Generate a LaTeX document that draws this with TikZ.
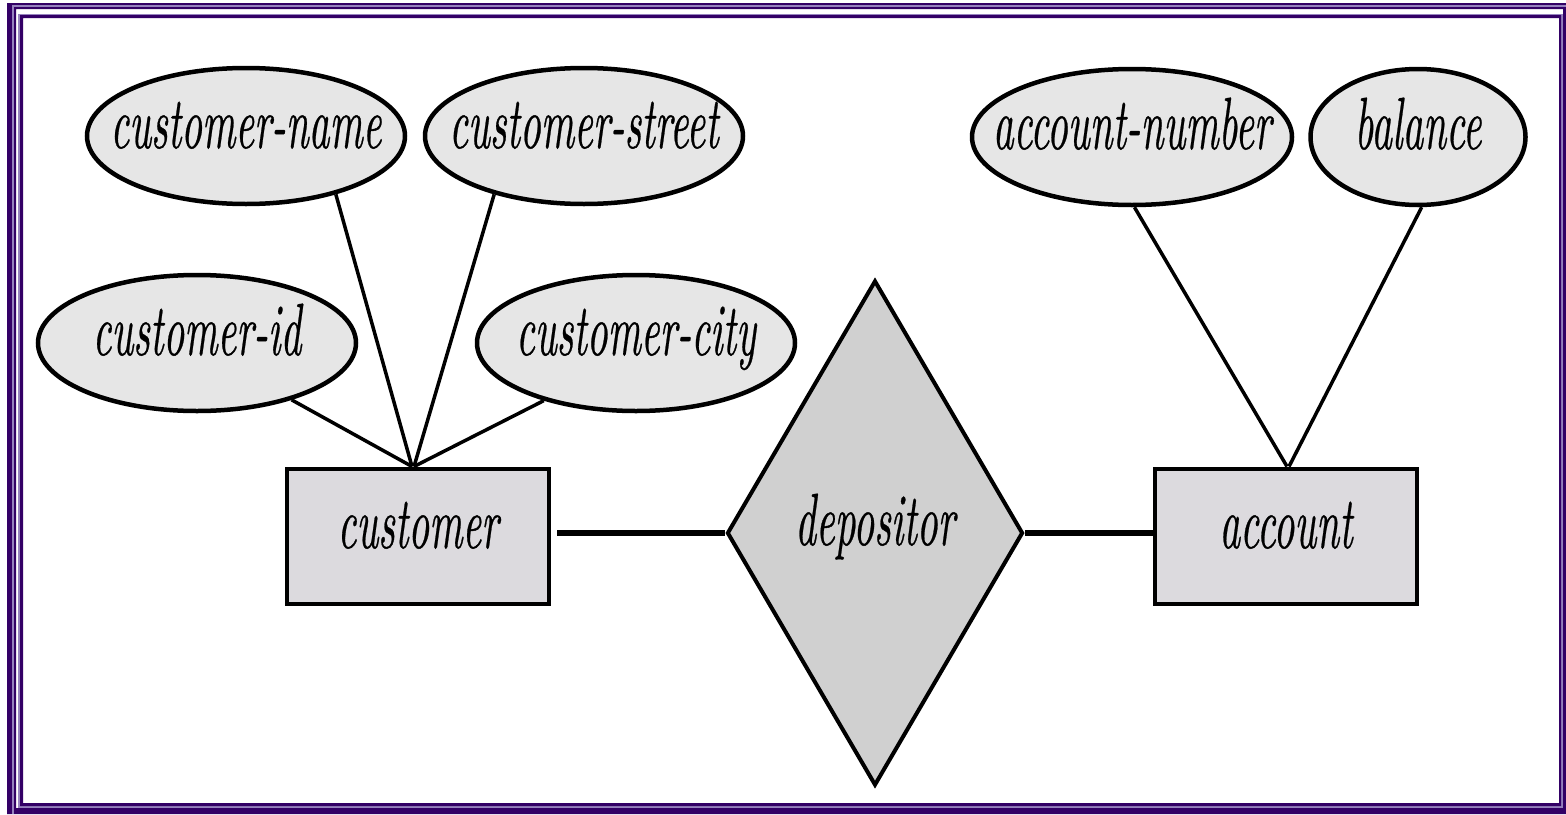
\documentclass[tikz,border=0pt]{standalone}
\usepackage{graphicx}
\usepackage{fontspec}
\newfontfamily\lblfont{lmroman10-italic.otf}[FakeBold=0.6]
\usetikzlibrary{shapes.geometric}
\definecolor{dp}{RGB}{51,0,102}
\definecolor{lav}{RGB}{150,130,190}
\definecolor{ellfill}{RGB}{230,230,230}
\definecolor{entfill}{RGB}{220,218,222}
\definecolor{relfill}{RGB}{208,208,208}
\newcommand{\lbl}[1]{\raisebox{-12pt}[0pt][0pt]{\makebox[0pt][c]{\scalebox{0.55}[1]{\fontsize{74}{90}\lblfont #1}}}}
\begin{document}
\begin{tikzpicture}[x=1pt,y=-1pt,
  attr/.style={ellipse, draw, line width=4.5pt, fill=ellfill, inner sep=0pt, minimum width=318pt, minimum height=136pt},
  ent/.style={rectangle, draw, line width=4pt, fill=entfill, inner sep=0pt, minimum width=262pt, minimum height=135pt},
  rel/.style={diamond, draw, line width=4pt, fill=relfill, inner sep=0pt, minimum width=296pt, minimum height=505pt},
  link/.style={line width=3.5pt},
  hlink/.style={line width=5.5pt}]
\useasboundingbox (0,0) rectangle (1566,814);
\fill[white] (0,0) rectangle (1566,814);
% frame
\fill[dp, even odd rule] (7,3) rectangle (1566,814) (16,9) rectangle (1563,808);
\draw[lav, line width=1.5pt] (13,814) -- (13,5.8) -- (1566,5.8);
\draw[lav, line width=1.5pt] (19,14.5) rectangle (1562,807);
\fill[dp, even odd rule] (20,15) rectangle (1561,806) (23,18) rectangle (1559,803);
% entities and relationship
\node[ent] (cust) at (418,536) {\lbl{customer}};
\node[ent] (acct) at (1286,536) {\lbl{account}};
\node[rel] (dep) at (875,533) {\lbl{depositor}};
% attributes
\node[attr] (cname) at (246,136) {\lbl{customer-name}};
\node[attr] (cstreet) at (584,136) {\lbl{customer-street}};
\node[attr] (cid) at (197,343) {\lbl{customer-id}};
\node[attr] (ccity) at (636,343) {\lbl{customer-city}};
\node[attr, minimum width=320pt] (anum) at (1132,137) {\lbl{account-number}};
\node[attr, minimum width=215pt] (bal) at (1418,137) {\lbl{balance}};
% connectors
\draw[link] (cname.-33) -- ([xshift=-6pt]cust.north);
\draw[link] (cstreet.-147) -- ([xshift=-4pt]cust.north);
\draw[link] (cid.-31) -- ([xshift=-6pt]cust.north);
\draw[link] (ccity.-148) -- ([xshift=-4pt]cust.north);
\draw[link] (anum.-88) -- ([xshift=1pt]acct.north);
\draw[link] (bal.-87) -- ([xshift=3pt]acct.north);
\draw[hlink] ([xshift=6pt]cust.east |- dep.west) -- (dep.west);
\draw[hlink] (dep.east) -- (acct.west |- dep.east);
\end{tikzpicture}
\end{document}
